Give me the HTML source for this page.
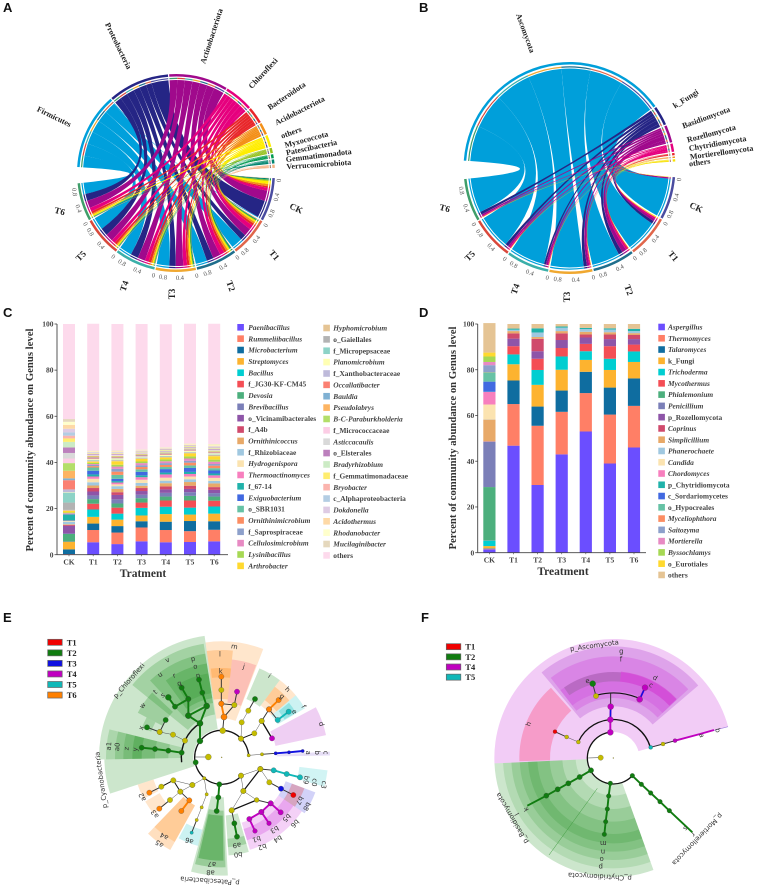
<!DOCTYPE html>
<html>
<head>
<meta charset="utf-8">
<title>Microbial community figure</title>
<style>
html,body{margin:0;padding:0;background:#fff;}
svg{display:block;filter:blur(0.3px);}
text{font-family:"Liberation Serif",serif;}
.sans{font-family:"Liberation Sans",sans-serif;}
.dv{font-family:"DejaVu Sans",sans-serif;}
</style>
</head>
<body>
<svg id="fig" xmlns="http://www.w3.org/2000/svg" width="767" height="885" viewBox="0 0 767 885">
  <rect x="0" y="0" width="767" height="885" fill="#fff"/>
  <text class="sans" x="3" y="12" font-size="13" font-weight="bold" fill="#111">A</text>
  <text class="sans" x="419" y="12" font-size="13" font-weight="bold" fill="#111">B</text>
  <text class="sans" x="3" y="317" font-size="13" font-weight="bold" fill="#111">C</text>
  <text class="sans" x="419" y="317" font-size="13" font-weight="bold" fill="#111">D</text>
  <text class="sans" x="3" y="622" font-size="13" font-weight="bold" fill="#111">E</text>
  <text class="sans" x="421" y="622" font-size="13" font-weight="bold" fill="#111">F</text>
</svg>
<script>
// ===== Data: chord A =====
const treatments = ['CK','T1','T2','T3','T4','T5','T6'];
const chordTicks = [0,0.4,0.8];
const treatmentColors = ['#4A4CA0','#E0664B','#1F6E8C','#F0A830','#3AAFA9','#D9483B','#3F9E6A'];
const bacPhyla = ['Firmicutes','Proteobacteria','Actinobacteriota','Chloroflexi','Bacteroidota','Acidobacteriota','others','Myxococcota','Patescibacteria','Gemmatimonadota','Verrucomicrobiota'];
const bacColors = ['#00A0DC','#252585','#A0098C','#E6007E','#E8262A','#F39019','#FFED00','#95C11F','#009A4E','#00856F','#F5B183'];
const bacFirmicutes = [.02,.3,.3,.33,.33,.33,.3];
const bacProteobacteria = [.45,.15,.18,.17,.2,.2,.18];
const bacActinobacteriota = [.27,.2,.2,.2,.2,.2,.2];
const bacChloroflexi = [.08,.12,.12,.1,.1,.1,.1];
const bacBacteroidota = [.04,.06,.07,.06,.07,.06,.06];
const bacAcidobacteriota = [.06,.05,.05,.04,.04,.03,.03];
const bacOthers = [.08,.04,.04,.04,.03,.03,.04];
const bacMyxococcota = [.03,.02,.02,.02,.02,.01,.01];
const bacPatescibacteria = [.01,.02,.02,.02,.01,.01,.01];
const bacGemmatimonadota = [.03,.01,.02,.01,.01,.01,.01];
const bacVerrucomicrobiota = [.01,.02,.01,.01,.01,.01,.01];
// ===== Data: chord B =====
const funPhyla = ['Ascomycota','k_Fungi','Basidiomycota','Rozellomycota','Chytridiomycota','Mortierellomycota','others'];
const funColors = ['#009FDA','#252585','#A0098C','#E6007E','#E8262A','#F39019','#F7E000'];
const funAscomycota = [.95,.8,.7,.82,.87,.84,.86];
const funKFungi = [.005,.07,.1,.08,.05,.07,.07];
const funBasidiomycota = [.03,.06,.11,.06,.05,.05,.04];
const funRozellomycota = [.003,.04,.05,.025,.02,.03,.02];
const funChytridiomycota = [.001,.005,.02,.01,.005,.005,.005];
const funMortierellomycota = [.002,.005,.005,.005,.005,.005,.005];
const funOthers = [.009,.02,.005,.005,.005,.005,.005];
// ===== Data: bars C =====
const genusC = ['Paenibacillus','Rummeliibacillus','Microbacterium','Streptomyces','Bacillus','f_JG30-KF-CM45','Devosia','Brevibacillus','o_Vicinamibacterales','f_A4b','Ornithinicoccus','f_Rhizobiaceae','Hydrogenispora','Thermoactinomyces','f_67-14','Exiguobacterium','o_SBR1031','Ornithinimicrobium','f_Saprospiraceae','Cellulosimicrobium','Lysinibacillus','Arthrobacter','Hyphomicrobium','o_Gaiellales','f_Micropepsaceae','Planomicrobium','f_Xanthobacteraceae','Occallatibacter','Bauldia','Pseudolabrys','B-C-Paraburkholderia','f_Micrococcaceae','Asticcacaulis','o_Elsterales','Bradyrhizobium','f_Gemmatimonadaceae','Bryobacter','c_Alphaproteobacteria','Dokdonella','Acidothermus','Rhodanobacter','Mucilaginibacter','others'];
const genusCRoman = ['f_JG30-KF-CM45','o_Vicinamibacterales','f_A4b','f_Rhizobiaceae','f_67-14','o_SBR1031','f_Saprospiraceae','o_Gaiellales','f_Micropepsaceae','f_Xanthobacteraceae','f_Micrococcaceae','o_Elsterales','f_Gemmatimonadaceae','c_Alphaproteobacteria','others'];
const colorsC = ['#6B4EFF','#FF7F66','#0F6DA0','#FDB32F','#00CED1','#F44E55','#4CAF7D','#7B7FB8','#8E55A8','#D04A6C','#E8A968','#A0C8E0','#FBE3B0','#F77FBE','#20B2AA','#4169E1','#66C2A5','#FC8D62','#8DA0CB','#E78AC3','#A6D854','#FFD92F','#E5C494','#B3B3B3','#8DD3C7','#FFFFB3','#BEBADA','#FB8072','#80B1D3','#FDB462','#B3DE69','#FCCDE5','#D9D9D9','#BC80BD','#CCEBC5','#FFED6F','#FBB4AE','#B3CDE3','#DECBE4','#FED9A6','#FFFFCC','#E5D8BD','#FDDAEC'];
const cCK = [.2,.1,2,3.2,.1,.1,3.3,.2,3.3,.4,.3,1.1,.3,.2,2.4,.2,.2,.2,.2,.1,.2,.7,.4,3.2,4.3,.2,1.2,4,.8,3.3,3.3,2,2.4,2.4,2.4,1.5,1.2,1.4,1.6,1.7,1.3,1.2,41.2];
const cT1 = [5.4,5.3,2.8,2.9,3.2,2.5,2,1.6,1.7,1.5,1.1,1.4,1.5,1,.9,1.6,1.4,.6,.5,.4,.5,.5,.3,.2,.2,.4,.3,.4,.2,.3,.2,.2,.3,.3,.2,.2,.2,.2,.1,.2,.2,.2,55];
const cT2 = [4.6,5,2.8,2.8,2.6,2.6,1.8,1.8,1.9,1.2,1.4,1.2,.8,.8,.6,1,1.7,1.4,1.2,1,.8,1.5,.3,.2,.2,.5,.2,.3,.2,.2,.2,.3,.2,.3,.2,.2,.2,.2,.1,.3,.2,.2,54.8];
const cT3 = [5.8,6,2.7,2.5,3.3,2.3,1.9,1.5,1.6,1.3,1,1.2,1.4,1.1,.8,1.5,1.1,1,.8,.9,.7,1.1,.3,.2,.2,.3,.2,.3,.2,.2,.2,.2,.2,.2,.2,.2,.2,.2,.1,.2,.2,.1,54.4];
const cT4 = [5.4,5.3,3.6,3.3,3.2,2.7,1.7,1.6,1.5,1.3,1.4,1.1,1.3,1.4,.8,1.5,.9,.9,.8,.8,.8,.8,.3,.2,.2,.4,.2,.3,.2,.2,.2,.2,.3,.2,.2,.2,.2,.3,.1,.2,.2,.2,53.3];
const cT5 = [5.5,4.7,4.4,2.8,3,3.1,2,1.6,1.4,1.4,1.6,1.2,1.2,1.1,.9,1.7,1.1,1.2,.8,1,.9,1.3,.3,.2,.2,.4,.2,.3,.2,.2,.2,.2,.2,.2,.2,.2,.2,.2,.1,.2,.3,.1,51.9];
const cT6 = [5.8,5,3.7,3.3,3.1,2.5,1.8,1.5,1.4,1.2,1.6,1.1,1.3,1.1,.8,1.3,1,1.1,.7,1,.9,1.5,.3,.3,.2,.4,.2,.3,.2,.2,.3,.2,.3,.3,.2,.2,.2,.3,.2,.3,.5,.2,52.1];
// ===== Data: bars D =====
const genusD = ['Aspergillus','Thermomyces','Talaromyces','k_Fungi','Trichoderma','Mycothermus','Phialemonium','Penicillium','p_Rozellomycota','Coprinus','Simplicillium','Phanerochaete','Candida','Chordomyces','p_Chytridiomycota','c_Sordariomycetes','o_Hypocreales','Myceliophthora','Saitozyma','Mortierella','Byssochlamys','o_Eurotiales','others'];
const genusDRoman = ['k_Fungi','p_Rozellomycota','p_Chytridiomycota','c_Sordariomycetes','o_Hypocreales','o_Eurotiales','others'];
const colorsD = ['#6B4EFF','#FF7F66','#0F6DA0','#FDB32F','#00CED1','#F44E55','#4CAF7D','#7B7FB8','#8E55A8','#D04A6C','#E8A968','#A0C8E0','#FBE3B0','#F77FBE','#20B2AA','#4169E1','#66C2A5','#FC8D62','#8DA0CB','#E78AC3','#A6D854','#FFD92F','#E5C494'];
const dCK = [1.5,.2,.2,1,2.4,.1,23.3,19.8,.1,.1,9.5,.1,6.5,5.5,.1,4.4,4.1,.1,3,1.4,2.4,1.7,12.9];
const dT1 = [46.8,18.2,10.3,7.1,4.3,3.6,0,0,3.3,2.3,1,.6,0,0,.5,0,0,0,0,0,0,0,2];
const dT2 = [29.6,25.9,8.4,9.5,6.5,4.9,0,0,3.3,5.4,.8,2,0,0,1.8,0,0,0,0,0,0,0,1.9];
const dT3 = [43,18.6,9.3,9.1,5.8,3.7,0,0,3.5,2.9,1,1.5,0,0,.5,0,0,0,0,0,0,0,1.1];
const dT4 = [53,16.8,9.3,5.2,3.8,3.2,0,0,2.8,1.3,1.2,1.2,0,0,.5,0,0,0,0,0,0,0,1.7];
const dT5 = [39,21.4,11.8,7.7,4.9,5.5,0,0,3.1,2,1,1.2,0,0,.5,0,0,0,0,0,0,0,1.9];
const dT6 = [46,18.2,12,7.2,4.6,3,0,0,2.4,1.8,.8,.9,0,0,1,0,0,0,0,0,0,0,2.1];
const yTicks = [0,20,40,60,80,100];
// ===== Cladogram palette and legends =====
const Y='#c4bc00',G='#107c10',O='#ff8000',C='#10b8b8',M='#c000c0',B='#1010e0',R='#f00000';
const legendE = [['T1',R],['T2',G],['T3',B],['T4',M],['T5',C],['T6',O]];
const legendF = [['T1',R],['T2',G],['T4',M],['T5',C]];
// clade highlights: from-angle, to-angle, inner, outer, colour, opacity
const cladeE = [
[-91,-8,85,368,'#008000',.2],[-108,-91,85,352,'#008000',.2],
[-51,-9,130,345,'#008000',.2],[-43,-9,165,315,'#008000',.2],[-36,-9,180,285,'#008000',.2],[-32,-9,195,255,'#008000',.15],
[-62,-47,200,285,'#008000',.22],[-70,-62,225,255,'#008000',.2],
[-91,-76,120,347,'#008000',.16],[-91,-76,160,320,'#008000',.16],[-91,-76,200,295,'#008000',.16],[-91,-76,240,268,'#008000',.2],
[-8,21,117,348,'#ff8000',.2],[-8,6,175,322,'#ff8000',.25],[-7,6,240,268,'#ff8000',.25],
[6,20.5,165,295,'#f03c6a',.22],[23,37,190,290,'#008000',.2],
[37,50,195,290,'#ff8000',.2],[37,50,215,265,'#ff8000',.25],
[50,59.5,195,290,'#00c0c0',.2],[51,59,220,260,'#00c0c0',.28],
[62,78,165,320,'#c040d0',.25],[87,89,165,325,'#a080e0',.25],[97,106,235,320,'#00c0c0',.18],
[110.5,124,205,300,'#3030e0',.22],[110.5,124,225,265,'#e04040',.3],
[124,137,205,290,'#c000d0',.18],[137,150,205,290,'#c000d0',.18],[150,163,205,290,'#c000d0',.18],
[124,137,225,260,'#c000d0',.2],[137,150,225,260,'#c000d0',.2],[150,163,225,260,'#c000d0',.2],
[164,176,175,295,'#008000',.2],[164,176,245,270,'#008000',.2],
[177,195,120,355,'#008000',.2],[178,194,160,330,'#008000',.25],[179,193,175,310,'#008000',.3],
[195,208,225,275,'#00c0c0',.2],[209,224,165,318,'#ff8000',.25],[209,224,165,290,'#ff8000',.2],
[230,240,215,265,'#ff8000',.2],[242,252,215,265,'#ff8000',.2]
];
const cladeF = [
[-92.6,74.7,78,357,'#c000d0',.2],
[-40,49.5,155,335,'#9000c0',.2],[-38,47.5,180,305,'#c000d0',.18],[-38,47.5,200,258,'#c000d0',.15],
[-35,5,230,258,'#505050',.2],[5,47,230,260,'#d000c0',.3],
[-92,-41.6,190,282,'#ff3060',.3],
[160.3,267.4,78,357,'#008000',.2],[160.3,267.4,113,331,'#008000',.12],[160.3,267.4,153,306,'#008000',.14],[160.3,267.4,191,281,'#008000',.14],[160.3,267.4,228,256,'#008000',.14]
];
// tree branches: chained nodes; x, y, colour, node size (zoom units)
const branchesE = [
[[600,468,G,9],[600,415,G,9],[565,392,G,9],[565,342,G,8],[545,308,G,8]],
[[600,415,G,9],[620,363,G,9],[607,323,G,8],[597,284,G,8]],
[[565,392,G,9],[620,363,G,9]],
[[565,342,G,8],[525,365,G,8],[505,337,G,9]],
[[555,467,Y,8],[519,449,Y,8],[479,441,Y,8],[441,427,G,8]],
[[479,441,Y,8],[497,405,G,8]],
[[545,503,G,8],[505,497,G,8],[465,492,G,8],[425,488,G,8]],
[[668,437,Y,9],[672,396,O,9],[664,356,O,8],[664,315,Y,8],[664,275,O,8]],
[[672,396,O,9],[703,360,Y,8],[711,320,M,8]],
[[664,356,O,8],[703,360,Y,8]],
[[723,461,Y,8],[725,412,Y,8],[745,377,Y,8],[765,342,G,8]],
[[723,461,Y,8],[763,445,Y,8],[785,408,Y,8],[807,373,O,8],[836,345,O,8]],
[[785,408,Y,8],[816,460,M,8]],
[[807,373,O,8],[833,405,C,8],[866,380,C,8]],
[[746,511,Y,5],[786,508,Y,5],[827,505,B,5],[867,502,B,5],[908,498,B,5]],
[[723,572,Y,8],[781,552,Y,8],[821,556,C,8],[860,567,C,8],[900,577,C,8]],
[[781,552,Y,8],[808,592,Y,8],[843,611,B,8],[880,630,R,8]],
[[723,572,Y,8],[730,618,Y,8],[770,645,Y,7],[812,655,M,8],[842,682,M,8]],
[[781,552,Y,8],[730,618,Y,8],[695,676,Y,8],[703,715,G,8],[711,755,G,8]],
[[695,676,Y,8],[770,645,Y,7]],
[[812,655,M,8],[784,681,M,8],[807,715,M,7]],
[[784,681,M,8],[748,702,M,8],[765,738,M,7]],
[[658,598,G,8],[655,637,G,8],[650,678,G,8]],
[[613,580,Y,5],[620,628,Y,5],[605,667,Y,5],[590,705,Y,5],[575,743,C,5]],
[[613,580,Y,5],[577,600,Y,8],[541,620,Y,8],[568,646,O,8],[544,678,O,8]],
[[577,600,Y,8],[520,586,Y,8],[484,605,Y,8],[448,623,O,8]],
[[541,620,Y,8],[510,645,Y,8],[478,671,O,8]]
];
const soloE = [[587,532,G,8],[625,516,Y,9],[665,517,Y,1.5]];
const branchesF = [
[[679,442,M,9],[679,404,M,9],[680,365,M,9],[680,325,Y,0]],
[[583,471,Y,6],[548,456,Y,6],[513,440,R,6]],
[[800,487,C,6],[837,477,Y,6],[873,467,M,6],[948,447,M,0],[990,435,M,0]],
[[636,333,Y,8],[626,296,G,9]],
[[767,343,M,9],[783,308,M,9]],
[[621,556,G,8],[587,576,G,8],[553,595,G,8],[521,613,G,8],[487,632,G,8],[430,662,G,0]],
[[679,595,G,7],[674,633,G,7],[670,672,G,7],[665,710,G,7],[661,748,G,7]],
[[745,572,G,7],[772,598,G,7],[800,624,G,7],[828,650,G,7],[856,677,G,7],[925,742,G,0]]
];
const soloF = [[650,518,Y,8],[688,519,Y,1.5]];
// tree labels: text, x, y, rotation
const labelsE = [
['p_Chloroflexi',392,285,-49],['p_Cyanobacteria',310,578,-98],['p_Patescibacteria',630,875,184],
['m',702,185,10],['l',660,208,0],['k',662,260,0],['j',730,245,15],['i',805,272,35],['h',858,312,45],['g',842,333,40],['f',905,362,60],['e',878,378,55],['d',958,413,75],['c',970,497,90],['b',945,497,90],['a',918,497,90],
['c3',965,592,100],['c0',937,585,100],['b9',912,578,100],['b8',915,655,120],['b7',893,637,120],['b5',855,688,135],['b6',880,705,135],['b3',820,722,150],['b4',830,750,150],['b1',768,750,165],['b2',785,773,165],
['a9',710,768,175],['b0',714,796,175],['a7',636,825,185],['a8',632,850,185],['a6',570,755,200],['a4',496,742,210],['a5',482,765,215],['a3',470,677,235],['a2',433,627,245],
['a1',333,478,-85],['a0',358,480,-85],['z',386,485,-85],['y',412,488,-85],['x',430,425,-70],['w',433,360,-50],['t',470,320,-40],['s',492,330,-35],['u',484,268,-35],['r',525,272,-20],['q',540,295,-20],['v',505,225,-25],['p',580,222,-10],['o',587,245,-10],['n',595,272,-10]
];
const labelsF = [
['p_Ascomycota',632,182,-8],['g',712,200,0],['f',711,224,0],['d',810,278,30],['c',798,300,30],['e',612,288,-15],['h',440,413,-70],
['a',947,447,75],['b',995,432,75],
['p_Basidiomycota',390,690,240],['p_Chytridiomycota',648,862,183],['p_Mortierellomycota',935,752,134],
['m',658,762,180],['n',657,787,180],['o',653,810,180],['p',650,833,180],['l',405,678,240],['k',432,663,240],['s',900,720,135],['r',923,738,135]
];

// ===== Helpers =====
const NS='http://www.w3.org/2000/svg';
const svg=document.getElementById('fig');
function add(tag,attrs,parent){
  const e=document.createElementNS(NS,tag);
  for(const k in attrs)e.setAttribute(k,attrs[k]);
  (parent||svg).appendChild(e);
  return e;
}
function write(parent,x,y,str,o){
  o=o||{};
  const a={x:x,y:y,'font-size':o.size||8,fill:o.fill||'#222'};
  if(o.weight)a['font-weight']=o.weight;
  if(o.style)a['font-style']=o.style;
  if(o.anchor)a['text-anchor']=o.anchor;
  if(o.cls)a['class']=o.cls;
  if(o.rot!==undefined)a.transform='rotate('+o.rot+' '+x+' '+y+')';
  if(o.len){a.textLength=o.len;a.lengthAdjust='spacingAndGlyphs';}
  const e=add('text',a,parent);
  e.textContent=str;
  return e;
}
function polar(cx,cy,r,deg){const t=deg*Math.PI/180;return [cx+r*Math.sin(t),cy-r*Math.cos(t)];}
function fmt(p){return p[0].toFixed(2)+' '+p[1].toFixed(2);}
function band(cx,cy,r1,r2,a1,a2){
  const l=Math.abs(a2-a1)>180?1:0;
  return 'M'+fmt(polar(cx,cy,r2,a1))+'A'+r2+' '+r2+' 0 '+l+' 1 '+fmt(polar(cx,cy,r2,a2))+
         'L'+fmt(polar(cx,cy,r1,a2))+'A'+r1+' '+r1+' 0 '+l+' 0 '+fmt(polar(cx,cy,r1,a1))+'Z';
}
function sum(a){return a.reduce(function(s,v){return s+v;},0);}

// ===== Chord diagrams =====
function chord(cfg){
  const g=add('g',{});
  
  
  const m=cfg.matrix,np=m.length,nt=treatments.length,c=cfg;
  const pSum=m.map(sum);
  const tSum=treatments.map(function(_,t){return sum(m.map(function(r){return r[t];}));});
  const topScale=(c.top[1]-c.top[0]-c.gap*(np-1))/sum(pSum);
  const botScale=(c.bot[1]-c.bot[0]-c.gap*(nt-1))/sum(tSum);
  const pStart=[],tStart=[],pPos=[],tPos=[];
  let cur=c.top[0];
  for(let p=0;p<np;p++){
    pStart[p]=cur;pPos[p]=[];
    let a=cur;
    for(let t=nt-1;t>=0;t--){pPos[p][t]=[a,a+m[p][t]*topScale];a+=m[p][t]*topScale;}
    cur=a+c.gap;
  }
  cur=c.bot[0];
  for(let t=0;t<nt;t++){
    tStart[t]=cur;tPos[t]=[];
    let a=cur;
    for(let p=np-1;p>=0;p--){tPos[t][p]=[a,a+m[p][t]*botScale];a+=m[p][t]*botScale;}
    cur=a+c.gap;
  }
  const cx=c.cx,cy=c.cy,rr=c.rib;
  for(let p=0;p<np;p++){
    for(let t=nt-1;t>=0;t--){
      const A=pPos[p][t],T=tPos[t][p];
      const d='M'+fmt(polar(cx,cy,rr,A[0]))+'A'+rr+' '+rr+' 0 0 1 '+fmt(polar(cx,cy,rr,A[1]))+
        'Q'+cx+' '+cy+' '+fmt(polar(cx,cy,rr,T[0]))+'A'+rr+' '+rr+' 0 0 1 '+fmt(polar(cx,cy,rr,T[1]))+
        'Q'+cx+' '+cy+' '+fmt(polar(cx,cy,rr,A[0]))+'Z';
      const r=add('path',{d:d,fill:c.colors[p]},g);
      
      
      const i1=add('path',{d:band(cx,cy,c.thin[0],c.thin[1],A[0],A[1]),fill:treatmentColors[t]},g);
      
      
      const i2=add('path',{d:band(cx,cy,c.thin[0],c.thin[1],T[0],T[1]),fill:c.colors[p]},g);
      
      
    }
  }
  for(let p=0;p<np;p++){
    const o=add('path',{d:band(cx,cy,c.out[0],c.out[1],pStart[p],pStart[p]+pSum[p]*topScale),fill:c.colors[p]},g);
    
    
    const L=c.phylumLabels[p];
    const lb=write(g,L[0],L[1],c.phyla[p],{size:c.labelSize,weight:'bold',anchor:'middle',rot:L[2],fill:'#222'});
    
    
  }
  for(let t=0;t<nt;t++){
    const o=add('path',{d:band(cx,cy,c.out[0],c.out[1],tStart[t],tStart[t]+tSum[t]*botScale),fill:treatmentColors[t]},g);
    
    
    const L=c.treatLabels[t];
    const lb=write(g,L[0],L[1],treatments[t],{size:9,weight:'bold',anchor:'middle',rot:L[2],fill:'#222'});
    
    
    chordTicks.forEach(function(v){
      const th=tStart[t]+v*botScale;
      const q=polar(cx,cy,c.out[1]+6,th);
      const tl=write(g,q[0].toFixed(1),(q[1]+2).toFixed(1),String(v),{size:6.5,anchor:'middle',rot:(th-180).toFixed(1),fill:'#555'});
      
      
    });
  }
}
chord({name:'chord-diagram-bacteria',cx:176,cy:173,rib:93,thin:[94,95.2],out:[96.5,99],gap:.7,top:[-86.5,87],bot:[93,264],labelSize:8,
  phyla:bacPhyla,colors:bacColors,
  matrix:[bacFirmicutes,bacProteobacteria,bacActinobacteriota,bacChloroflexi,bacBacteroidota,bacAcidobacteriota,bacOthers,bacMyxococcota,bacPatescibacteria,bacGemmatimonadota,bacVerrucomicrobiota],
  phylumLabels:[[53,119,26],[116,47,64],[214,37,-72],[265,75,-47],[288,98,-34],[301,113,-27],[292,135,-20],[307,142,-15],[312,150,-12],[319,158,-7],[319,167,-4]],
  treatLabels:[[295,211,25],[272,257,50],[228,287,70],[175,294,-90],[127,287,-70],[83,258,-45],[59,214,15]]});
chord({name:'chord-diagram-fungi',cx:569.5,cy:168,rib:99.5,thin:[100.5,101.7],out:[103.5,106],gap:.7,top:[-86,86.5],bot:[95,264],labelSize:8,
  phyla:funPhyla,colors:funColors,
  matrix:[funAscomycota,funKFungi,funBasidiomycota,funRozellomycota,funChytridiomycota,funMortierellomycota,funOthers],
  phylumLabels:[[523,34,70],[687,101,-32],[707,120,-20],[712,136,-15],[718,146,-10],[722,155,-8],[700,165,-8]],
  treatLabels:[[695,210,25],[671,258,50],[626,291,70],[570,297,-90],[518,290,-70],[472,258,-45],[444,211,15]]});

// ===== Stacked bars =====
function bars(cfg){
  const g=add('g',{});
  
  
  const yS=function(v){return cfg.y0+(cfg.y100-cfg.y0)*v/100;};
  const xS=function(i){return cfg.x0+cfg.step*i;};
  treatments.forEach(function(tn,i){
    let base=0;
    cfg.series[i].forEach(function(v,k){
      if(v<=0)return;
      const r=add('rect',{x:xS(i).toFixed(2),y:yS(base+v).toFixed(2),width:cfg.w,height:(yS(base)-yS(base+v)).toFixed(2),fill:cfg.colors[k]},g);
      
      
      base+=v;
    });
    const xl=write(g,xS(i)+cfg.w/2,cfg.y0+10,tn,{size:7.5,weight:'bold',anchor:'middle',fill:'#444'});
    
    
    const xt=add('line',{x1:xS(i)+cfg.w/2,x2:xS(i)+cfg.w/2,y1:cfg.y0,y2:cfg.y0+1.5,stroke:'#555','stroke-width':.7},g);
    
    
  });
  const ax=add('line',{x1:cfg.axisX,x2:cfg.axisX,y1:cfg.y100,y2:cfg.y0,stroke:'#444','stroke-width':.9},g);
  
  
  const ay=add('line',{x1:cfg.axisX,x2:cfg.axisEnd,y1:cfg.y0,y2:cfg.y0,stroke:'#444','stroke-width':.9},g);
  
  
  yTicks.forEach(function(v){
    const t=add('line',{x1:cfg.axisX-2.5,x2:cfg.axisX,y1:yS(v),y2:yS(v),stroke:'#444','stroke-width':.8},g);
    
    
    const l=write(g,cfg.axisX-3.5,yS(v)+2.6,String(v),{size:7.5,weight:'bold',anchor:'end',fill:'#444'});
    
    
  });
  const yt=write(g,cfg.ytX,cfg.ytY,'Percent of community abundance on Genus level',{size:11,weight:'bold',anchor:'middle',rot:-90,fill:'#333',len:223});
  
  
  const xt=write(g,cfg.xtX,cfg.xtY,cfg.xTitle,{size:11.5,weight:'bold',anchor:'middle',fill:'#333'});
  
  
  cfg.legend.forEach(function(col){
    for(let k=col.from;k<col.to;k++){
      const y=col.y+col.step*(k-col.from);
      const s=add('rect',{x:col.x,y:(y-3.3).toFixed(2),width:6.6,height:6.6,fill:cfg.colors[k]},g);
      
      
      const roman=cfg.roman.indexOf(cfg.genus[k])>=0;
      const l=write(g,col.x+col.tx,(y+2.6).toFixed(2),cfg.genus[k],{size:7.4,weight:'bold',style:roman?undefined:'italic',fill:'#444'});
      
      
    }
  });
}
bars({name:'stacked-bar-chart-bacteria',genus:genusC,roman:genusCRoman,colors:colorsC,series:[cCK,cT1,cT2,cT3,cT4,cT5,cT6],
  x0:63,step:24.2,w:12,y0:554.7,y100:324,axisX:57,axisEnd:228,ytX:33,ytY:440,xtX:143,xtY:577,xTitle:'Tratment',
  legend:[{from:0,to:22,x:237.3,y:327.3,step:11.36,tx:11},{from:22,to:43,x:323.3,y:328,step:11.37,tx:10}]});
bars({name:'stacked-bar-chart-fungi',genus:genusD,roman:genusDRoman,colors:colorsD,series:[dCK,dT1,dT2,dT3,dT4,dT5,dT6],
  x0:483.3,step:24.1,w:12.2,y0:552.7,y100:324,axisX:477.7,axisEnd:646,ytX:456,ytY:438,xtX:563,xtY:575,xTitle:'Treatment',
  legend:[{from:0,to:23,x:658.3,y:327,step:11.27,tx:9.7}]});

// ===== Cladograms =====
function clado(cfg){
  const g=add('g',{});
  
  
  const X=function(x){return cfg.ox+x/3;},Yy=function(y){return 585+y/3;};
  const cx=X(cfg.c[0]),cy=Yy(cfg.c[1]);
  cfg.clades.forEach(function(s,i){
    const p=add('path',{d:band(cx,cy,s[2]/3,s[3]/3,s[0],s[1]),fill:s[4],'fill-opacity':s[5]},g);
    
    
  });
  cfg.arcs.forEach(function(a,i){
    const r=a[0]/3;
    const l=Math.abs(a[2]-a[1])>180?1:0;
    const p=add('path',{d:'M'+fmt(polar(cx,cy,r,a[1]))+'A'+r+' '+r+' 0 '+l+' 1 '+fmt(polar(cx,cy,r,a[2])),fill:'none',stroke:'#111','stroke-width':a[3]},g);
    
    
  });
  cfg.lines.forEach(function(a,i){
    const p=add('line',{x1:X(a[0]),y1:Yy(a[1]),x2:X(a[2]),y2:Yy(a[3]),stroke:a[4],'stroke-width':a[5]},g);
    
    
  });
  cfg.branches.forEach(function(b,i){
    for(let k=1;k<b.length;k++){
      const same=b[k][2]===b[k-1][2]&&b[k][2]!==Y;
      const thick=b[k][2]===Y&&b[k-1][2]===Y?.7:1.6;
      const e=add('line',{x1:X(b[k-1][0]),y1:Yy(b[k-1][1]),x2:X(b[k][0]),y2:Yy(b[k][1]),stroke:same?b[k][2]:'#333','stroke-width':same?1.9:thick*.6},g);
      
      
    }
  });
  cfg.over.forEach(function(a,i){
    const p=add('line',{x1:X(a[0]),y1:Yy(a[1]),x2:X(a[2]),y2:Yy(a[3]),stroke:a[4],'stroke-width':a[5]},g);
    
    
  });
  function node(n,name){
    if(!n[3])return;
    const c=add('circle',{cx:X(n[0]),cy:Yy(n[1]),r:(n[3]/3).toFixed(2),fill:n[2],stroke:'#444','stroke-width':.25},g);
    
    
  }
  cfg.branches.forEach(function(b,i){b.forEach(function(n,k){node(n,'tree-node-'+i+'-'+k);});});
  cfg.solo.forEach(function(n,i){node(n,'tree-node-solo-'+i);});
  cfg.labels.forEach(function(l){
    const t=write(g,X(l[1]),Yy(l[2])+2,l[0],{size:6.8,anchor:'middle',rot:l[3],cls:'dv',fill:'#333'});
    
    
  });
  cfg.legend.forEach(function(l,i){
    const y=cfg.lgY+cfg.lgStep*i;
    const s=add('rect',{x:cfg.lgX,y:y.toFixed(2),width:14.5,height:6,fill:l[1],stroke:'#666','stroke-width':.7},g);
    
    
    const t=write(g,cfg.lgX+19,(y+6).toFixed(2),l[0],{size:8.5,weight:'bold',fill:'#222'});
    
    
  });
}
clado({name:'cladogram-bacteria',ox:0,c:[665,517],clades:cladeE,branches:branchesE,solo:soloE,labels:labelsE,legend:legendE,
  lgX:47.7,lgY:639.3,lgStep:10.55,
  arcs:[[81,-225,87,1.3],[121,-97,-32,1.4]],
  lines:[[585,516,625,516,'#333',.5]],
  over:[[785,408,816,460,'#111',1.3],[781,552,730,618,'#111',1.2],[695,676,770,645,'#111',1.3],[723,461,763,445,'#111',1],[541,620,520,586,'#111',1],[484,605,520,586,'#111',1]]});
clado({name:'cladogram-fungi',ox:384,c:[688,519],clades:cladeF,branches:branchesF,solo:soloF,labels:labelsF,legend:legendF,
  lgX:446.3,lgY:643.7,lgStep:10.15,
  arcs:[[78,-225,-5,1.3],[115.5,-65,74,1.3],[195,-14,25,1.1]],
  lines:[[610,519,650,518,'#333',.5],[680,365,680,325,'#333',.6],[640,610,495,810,'#3f9a3f',.5],[800,487,1032,425,'#a080e0',.6]],
  over:[[679,404,680,365,'#1010e0',1.5],[767,343,783,308,'#1010e0',1.5]]});
</script>
</body>
</html>
